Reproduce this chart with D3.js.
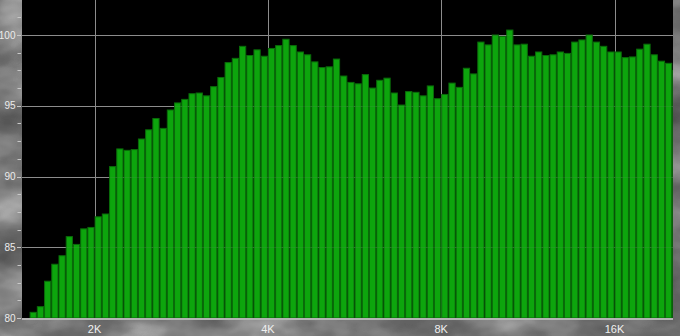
<!DOCTYPE html>
<html>
<head>
<meta charset="utf-8">
<script src="https://cdn.jsdelivr.net/npm/d3@7"></script>
<style>
  body { margin: 0; background: #2a2a2a; }
  svg { display: block; }
  text { font-family: "Liberation Sans", Arial, sans-serif; }
</style>
</head>
<body>
<script>
// level of each 1/24-octave band (first band starts 9 bands below 2K)
const levels = [
  80.4, 80.8, 82.6, 83.8, 84.4, 85.75, 85.2, 86.3, 86.4, 87.15,
  87.35, 90.7, 91.95, 91.85, 91.9, 92.65, 93.3, 94.1, 93.4, 94.7,
  95.2, 95.45, 95.85, 95.9, 95.7, 96.35, 97.0, 98.05, 98.35, 99.2,
  98.55, 98.95, 98.5, 99.05, 99.25, 99.7, 99.25, 98.8, 98.6, 98.1,
  97.7, 97.75, 98.3, 97.1, 96.65, 96.55, 97.2, 96.25, 96.8, 96.95,
  95.9, 95.05, 96.0, 95.95, 95.7, 96.4, 95.5, 95.8, 96.6, 96.3,
  97.65, 97.25, 99.5, 99.3, 100.0, 99.9, 100.35, 99.3, 99.35, 98.5,
  98.8, 98.55, 98.6, 98.8, 98.7, 99.5, 99.65, 100.0, 99.5, 99.2,
  98.8, 98.8, 98.4, 98.45, 99.0, 99.35, 98.6, 98.15, 98.0, 97.5
];
const bandsPerOctave = 24;
const firstBand = -9;            // band index relative to 2K
const xTicks = [2000, 4000, 8000, 16000];
const xTickLabels = ["2K", "4K", "8K", "16K"];
const yTicks = [80, 85, 90, 95, 100];
const yMinorStep = 1.25;

const W = 680, H = 336;
const plot = { left: 22, right: 673, top: 0, bottom: 318 };

const x = d3.scaleLog().domain([2000, 16000]).range([94.6, 614.5]);
const y = d3.scaleLinear().domain([80, 100]).range([318, 35]);

const svg = d3.select("body").append("svg")
    .attr("width", W)
    .attr("height", H);

// smoky grey backdrop
const defs = svg.append("defs");
const smoke = defs.append("filter").attr("id", "smoke")
    .attr("x", 0).attr("y", 0).attr("width", "100%").attr("height", "100%");
smoke.append("feTurbulence")
    .attr("type", "fractalNoise")
    .attr("baseFrequency", "0.013 0.022")
    .attr("numOctaves", 4)
    .attr("seed", 11);
smoke.append("feColorMatrix")
    .attr("type", "matrix")
    .attr("values", "1 0 0 0 0  1 0 0 0 0  1 0 0 0 0  0 0 0 0 1");
const ct = smoke.append("feComponentTransfer");
["feFuncR", "feFuncG", "feFuncB"].forEach(function (n) {
  ct.append(n).attr("type", "table").attr("tableValues", "0.06 0.1 0.15 0.24 0.38 0.5");
});
defs.append("clipPath").attr("id", "plotclip")
  .append("rect")
    .attr("x", plot.left).attr("y", plot.top)
    .attr("width", plot.right - plot.left)
    .attr("height", plot.bottom - plot.top);

svg.append("rect")
    .attr("width", W).attr("height", H)
    .attr("fill", "#333")
    .attr("filter", "url(#smoke)");

svg.append("rect")
    .attr("x", plot.left).attr("y", plot.top)
    .attr("width", plot.right - plot.left)
    .attr("height", plot.bottom - plot.top)
    .attr("fill", "#000");

// grid
const grid = svg.append("g").attr("clip-path", "url(#plotclip)");
grid.selectAll(".hgrid")
    .data(yTicks.filter(function (d) { return d > 80; }))
    .enter().append("line")
    .attr("x1", plot.left).attr("x2", plot.right)
    .attr("y1", function (d) { return Math.round(y(d)) + 0.5; })
    .attr("y2", function (d) { return Math.round(y(d)) + 0.5; })
    .attr("stroke", "#8c8c8c").attr("stroke-width", 1);
grid.selectAll(".vgrid")
    .data(xTicks)
    .enter().append("line")
    .attr("x1", function (d) { return Math.round(x(d)) + 0.5; })
    .attr("x2", function (d) { return Math.round(x(d)) + 0.5; })
    .attr("y1", plot.top).attr("y2", plot.bottom)
    .attr("stroke", "#8c8c8c").attr("stroke-width", 1);

// bars
const bands = levels.map(function (v, i) {
  const k = firstBand + i;
  return {
    lo: 2000 * Math.pow(2, k / bandsPerOctave),
    hi: 2000 * Math.pow(2, (k + 1) / bandsPerOctave),
    v: v
  };
});
grid.selectAll(".bar")
    .data(bands)
    .enter().append("rect")
    .attr("class", "bar")
    .attr("x", function (d) { return x(d.lo) + 0.5; })
    .attr("width", function (d) { return x(d.hi) - x(d.lo) - 1; })
    .attr("y", function (d) { return y(d.v); })
    .attr("height", function (d) { return y(80) - y(d.v); })
    .attr("fill", "#0da50d")
    .attr("stroke", "#0a6c0a")
    .attr("stroke-width", 1);

// faint grid showing through the bars
grid.selectAll(".hover")
    .data(yTicks.filter(function (d) { return d > 80; }))
    .enter().append("line")
    .attr("x1", plot.left).attr("x2", plot.right)
    .attr("y1", function (d) { return Math.round(y(d)) + 0.5; })
    .attr("y2", function (d) { return Math.round(y(d)) + 0.5; })
    .attr("stroke", "#8c8c8c").attr("stroke-opacity", 0.12);

// bottom axis line
svg.append("line")
    .attr("x1", plot.left).attr("x2", plot.right)
    .attr("y1", 319).attr("y2", 319)
    .attr("stroke", "#b4b4b4").attr("stroke-width", 2);

// y axis: labels, major and minor ticks
const minor = d3.range(80, 102.5, yMinorStep);
svg.selectAll(".ytick")
    .data(minor)
    .enter().append("line")
    .attr("x1", function (d) { return yTicks.indexOf(d) >= 0 ? 17 : 17.5; })
    .attr("x2", 21)
    .attr("y1", function (d) { return Math.round(y(d)) + 0.5; })
    .attr("y2", function (d) { return Math.round(y(d)) + 0.5; })
    .attr("stroke", "#c8c8c8").attr("stroke-width", 1);
svg.selectAll(".ylab")
    .data(yTicks)
    .enter().append("text")
    .attr("x", 15.5)
    .attr("y", function (d) { return y(d); })
    .attr("dy", "0.36em")
    .attr("text-anchor", "end")
    .attr("font-size", 10)
    .attr("fill", "#ececec")
    .text(function (d) { return d; });

// x axis labels
svg.selectAll(".xlab")
    .data(xTicks)
    .enter().append("text")
    .attr("x", function (d) { return x(d); })
    .attr("y", 333)
    .attr("text-anchor", "middle")
    .attr("font-size", 11)
    .attr("fill", "#f0f0f0")
    .text(function (d, i) { return xTickLabels[i]; });
</script>
</body>
</html>
